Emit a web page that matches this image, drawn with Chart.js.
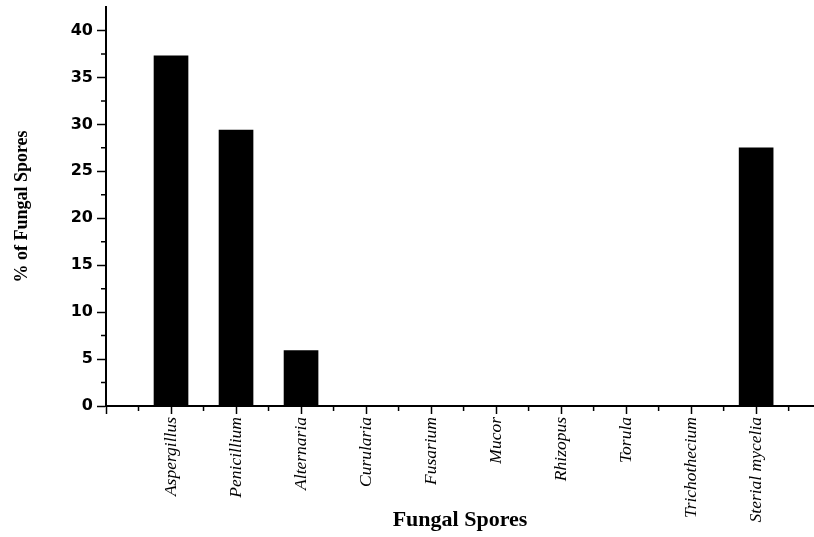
<!DOCTYPE html>
<html>
<head>
<meta charset="utf-8">
<title>Fungal Spores</title>
<script src="https://cdn.jsdelivr.net/npm/chart.js@4/dist/chart.umd.min.js"></script>
<style>
  html, body { margin: 0; padding: 0; background: #ffffff; }
  #wrap { width: 814px; height: 537px; }
</style>
</head>
<body>
<div id="wrap"><canvas id="c" width="814" height="537"></canvas></div>
<script>
// Spore types on the x axis
const categories = ['Aspergillus', 'Penicillium', 'Alternaria', 'Curularia', 'Fusarium',
                    'Mucor', 'Rhizopus', 'Torula', 'Trichothecium', 'Sterial mycelia'];
// Share of each spore type (%)
const percentages = [37.3, 29.4, 5.9, 0, 0, 0, 0, 0, 0, 27.5];
// Value range of the axes
const yRange = [0, 42.5];
const xRange = [0, 10.89];

// Short minor ticks halfway between the labelled ones
const minorTicks = {
  id: 'minorTicks',
  afterDraw(chart) {
    const { ctx, scales: { x, y } } = chart;
    ctx.save();
    ctx.strokeStyle = '#000';
    ctx.lineWidth = 1.5;
    ctx.beginPath();
    for (let v = 0.5; v < x.max; v += 1) {
      const px = x.getPixelForValue(v);
      ctx.moveTo(px, x.top);
      ctx.lineTo(px, x.top + 5);
    }
    for (let v = 2.5; v < y.max; v += 5) {
      const py = y.getPixelForValue(v);
      ctx.moveTo(y.right, py);
      ctx.lineTo(y.right - 5, py);
    }
    ctx.stroke();
    ctx.restore();
  }
};

const whiteBackground = {
  id: 'whiteBackground',
  beforeDraw(chart) {
    const { ctx } = chart;
    ctx.save();
    ctx.fillStyle = '#fff';
    ctx.fillRect(0, 0, chart.width, chart.height);
    ctx.restore();
  }
};

new Chart(document.getElementById('c'), {
  type: 'bar',
  data: {
    datasets: [{
      data: categories.map((c, i) => ({ x: i + 1, y: percentages[i] })),
      backgroundColor: '#000',
      borderWidth: 0,
      barThickness: 34
    }]
  },
  options: {
    responsive: false,
    animation: false,
    devicePixelRatio: 1,
    layout: { padding: { top: 7, right: 0, bottom: 0, left: 0 } },
    plugins: { legend: { display: false }, tooltip: { enabled: false } },
    scales: {
      x: {
        type: 'linear',
        offset: false,
        min: xRange[0],
        max: xRange[1],
        afterFit(scale) { scale.height = 131; },
        border: { display: true, color: '#000', width: 2 },
        grid: { display: true, offset: false, drawOnChartArea: false, drawTicks: true, tickLength: 8,
                color: '#000', tickColor: '#000', tickWidth: 1.5 },
        ticks: {
          stepSize: 1,
          includeBounds: false,
          autoSkip: false,
          minRotation: 90,
          maxRotation: 90,
          padding: 3,
          color: '#000',
          font: { family: '"Liberation Serif", "Times New Roman", serif', style: 'italic', size: 17.5 },
          callback: (v) => categories[v - 1] ?? ''
        },
        title: {
          display: true,
          text: 'Fungal Spores',
          color: '#000',
          font: { family: '"Liberation Serif", "Times New Roman", serif', weight: 'bold', size: 22 },
          padding: { top: 0, bottom: 3 }
        }
      },
      y: {
        type: 'linear',
        min: yRange[0],
        max: yRange[1],
        afterFit(scale) { scale.width = 106; scale.paddingTop = 0; },
        border: { display: true, color: '#000', width: 2 },
        grid: { display: true, drawOnChartArea: false, drawTicks: true, tickLength: 9,
                color: '#000', tickColor: '#000', tickWidth: 1.5 },
        ticks: {
          stepSize: 5,
          includeBounds: false,
          padding: 4,
          color: '#000',
          font: { family: '"DejaVu Sans", sans-serif', weight: 'bold', size: 16 }
        },
        title: {
          display: true,
          text: '% of Fungal Spores',
          color: '#000',
          font: { family: '"Liberation Serif", "Times New Roman", serif', weight: 'bold', size: 18 },
          padding: { top: 12, bottom: 0 }
        }
      }
    }
  },
  plugins: [whiteBackground, minorTicks]
});
</script>
</body>
</html>
